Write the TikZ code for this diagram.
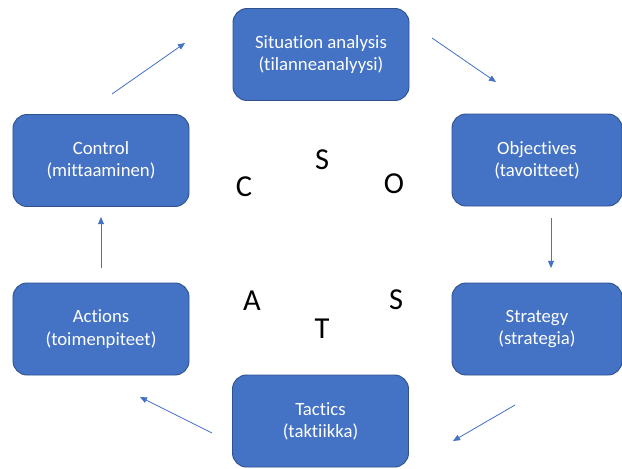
\documentclass[tikz,border=0pt]{standalone}
\usepackage{fontspec}
\setmainfont[Ligatures={NoCommon}]{Carlito}
\definecolor{sobox}{HTML}{4472C4}
\definecolor{soedge}{HTML}{2F528F}
\usetikzlibrary{arrows.meta, positioning}

\begin{document}
\begin{tikzpicture}[
  x=0.03cm, y=-0.03cm,
  stage/.style={rectangle, draw=soedge, fill=sobox, line width=0.8pt,
                rounded corners=12pt,
                minimum width=5.28cm, minimum height=2.76cm,
                align=center, text=white,
                font=\fontsize{16}{19}\selectfont},
  letter/.style={font=\fontsize{26}{26}\selectfont, text=black},
  arr/.style={-{Triangle[length=6pt, width=5pt]}, line width=0.7pt,
              color=sobox}
]
  \useasboundingbox (0,0) rectangle (622,468);

  % the six stages
  \node[stage] (situation) at (321,54.5)
    {Situation analysis\\(tilanneanalyysi)};
  \node[stage, minimum width=5.1cm] (objectives) at (537,160)
    {Objectives\\(tavoitteet)};
  \node[stage, minimum width=5.1cm] (strategy) at (537,329)
    {Strategy\\(strategia)};
  \node[stage] (tactics) at (320.5,421)
    {Tactics\\(taktiikka)};
  \node[stage] (actions) at (101,329)
    {Actions\\(toimenpiteet)};
  \node[stage] (control) at (101,160.5)
    {Control\\(mittaaminen)};

  % SOSTAC letters
  \node[letter] (ls1) at (322,160) {S};
  \node[letter] (lo)  at (394,184) {O};
  \node[letter] (ls2) at (396,300) {S};
  \node[letter] (lt)  at (322,329) {T};
  \node[letter] (la)  at (252,301) {A};
  \node[letter] (lc)  at (244,187) {C};

  % arrow ends
  \coordinate (a1) at (112,94);   \coordinate (b1) at (185,43);
  \coordinate (a2) at (432,38);   \coordinate (b2) at (496,82);
  \coordinate (a3) at (551,218);  \coordinate (b3) at (551,268);
  \coordinate (a4) at (515,405);  \coordinate (b4) at (453,441);
  \coordinate (a5) at (212,433);  \coordinate (b5) at (140,397);
  \coordinate (a6) at (101,268);  \coordinate (b6) at (101,217);

  \draw[arr] (a1) -- (b1);
  \draw[arr] (a2) -- (b2);
  \draw[arr] (a3) -- (b3);
  \draw[arr] (a4) -- (b4);
  \draw[arr] (a5) -- (b5);
  \draw[arr] (a6) -- (b6);
\end{tikzpicture}
\end{document}
